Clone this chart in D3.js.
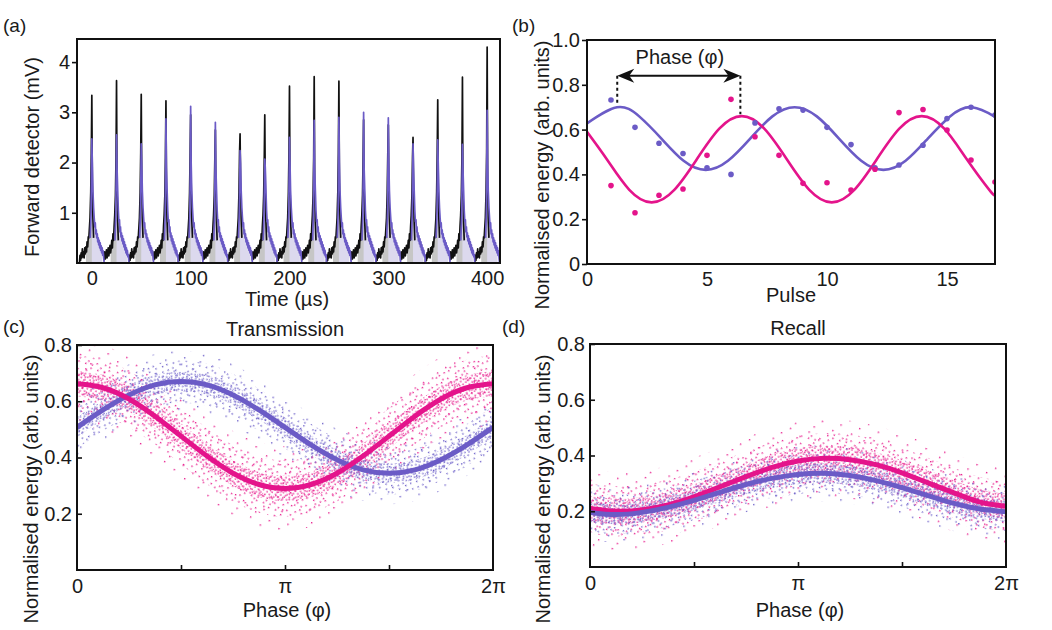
<!DOCTYPE html>
<html>
<head>
<meta charset="utf-8">
<script src="https://cdn.jsdelivr.net/npm/d3@7"></script>
<style>
body { margin: 0; background: #fff; }
text { font-family: "Liberation Sans", Arial, sans-serif; fill: #1a1a1a; }
</style>
</head>
<body>
<svg id="fig" width="1052" height="630"></svg>
<script>
// ---------- data ----------
// (a) forward detector, one pulse every 25 us
var pulseTimes = [0, 25, 50, 75, 100, 125, 150, 175, 200, 225, 250, 275, 300, 325, 350, 375, 400];
var inputPeaks = [3.34, 3.63, 3.36, 3.23, 2.95, 2.65, 2.57, 2.95, 3.52, 3.71, 3.62, 2.85, 2.75, 2.5, 3.25, 3.7, 4.3];
var outputPeaks = [2.47, 2.55, 2.37, 2.87, 3.12, 2.8, 2.24, 2.07, 2.5, 2.84, 2.9, 3.0, 2.89, 2.37, 2.45, 2.36, 3.04];
// pulse shapes: [offset from peak (us), mV], null = the pulse peak
var inputShapeA = [[-12.5, 0.0], [-12, 0.15], [-11.4, 0.05], [-10.8, 0.2], [-10.2, 0.1], [-9.6, 0.28], [-9, 0.12],
  [-8.4, 0.22], [-7.8, 0.1], [-7.2, 0.3], [-6.6, 0.18], [-6, 0.32], [-5.4, 0.22], [-4.8, 0.42], [-4.2, 0.32],
  [-3.6, 0.52], [-3, 0.5], [-2.4, 0.7], [-1.8, 0.9], [-1.1, 1.4], [-0.5, 2.2], [0, null], [0.5, 1.6], [1.1, 0.9], [1.8, 0.5]];
var inputShapeB = [[-12.5, 0.05], [-12, 0.22], [-11.4, 0.08], [-10.8, 0.14], [-10.2, 0.26], [-9.6, 0.1], [-9, 0.2],
  [-8.4, 0.3], [-7.8, 0.14], [-7.2, 0.24], [-6.6, 0.35], [-6, 0.2], [-5.4, 0.3], [-4.8, 0.45], [-4.2, 0.3],
  [-3.6, 0.58], [-3, 0.45], [-2.4, 0.74], [-1.8, 0.95], [-1.1, 1.35], [-0.5, 2.1], [0, null], [0.5, 1.5], [1.1, 0.85], [1.8, 0.45]];
var outputShapeA = [[-1.6, 0.5], [-0.8, 1.0], [0, null], [0.5, 2.0], [1.1, 1.45], [1.8, 1.1], [2.4, 0.9], [3, 0.72],
  [3.5, 0.8], [4, 0.58], [4.5, 0.66], [5, 0.5], [5.5, 0.58], [6, 0.42], [6.5, 0.5], [7, 0.36], [7.5, 0.45], [8, 0.3],
  [8.5, 0.4], [9, 0.25], [9.5, 0.34], [10, 0.2], [10.5, 0.3], [11, 0.15], [11.5, 0.24], [12, 0.1], [12.5, 0.0]];
var outputShapeB = [[-1.6, 0.45], [-0.8, 0.95], [0, null], [0.5, 1.9], [1.1, 1.5], [1.8, 1.05], [2.4, 0.82], [3, 0.86],
  [3.5, 0.62], [4, 0.72], [4.5, 0.52], [5, 0.6], [5.5, 0.44], [6, 0.54], [6.5, 0.38], [7, 0.48], [7.5, 0.32], [8, 0.42],
  [8.5, 0.26], [9, 0.36], [9.5, 0.2], [10, 0.3], [10.5, 0.16], [11, 0.25], [11.5, 0.12], [12, 0.17], [12.5, 0.0]];

// (b) pulse energies and fitted curves
var pulseNumbers = [1, 2, 3, 4, 5, 6, 7, 8, 9, 10, 11, 12, 13, 14, 15, 16, 17];
var purpleEnergy = [0.732, 0.61, 0.539, 0.493, 0.43, 0.40, 0.63, 0.693, 0.687, 0.61, 0.533, 0.43, 0.442, 0.53, 0.649, 0.70, 0.665];
var pinkEnergy = [0.35, 0.229, 0.307, 0.335, 0.485, 0.735, 0.568, 0.485, 0.36, 0.363, 0.33, 0.423, 0.676, 0.69, 0.598, 0.464, 0.366];
var purpleFitX = [0, 1.25, 2.175, 3.1, 4.025, 4.95, 5.875, 6.8, 7.725, 8.65, 9.575, 10.5, 11.425, 12.35, 13.275, 14.2, 15.125, 16.05, 16.975, 17];
var purpleFitY = [0.628, 0.70, 0.659, 0.56, 0.461, 0.42, 0.461, 0.56, 0.659, 0.70, 0.659, 0.56, 0.461, 0.42, 0.461, 0.56, 0.659, 0.70, 0.659, 0.658];
var pinkFitX = [0, 0.825, 1.7625, 2.7, 3.6375, 4.575, 5.5125, 6.45, 7.3875, 8.325, 9.2625, 10.2, 11.1375, 12.075, 13.0125, 13.95, 14.8875, 15.825, 16.7625, 17];
var pinkFitY = [0.59, 0.4675, 0.331, 0.275, 0.331, 0.4675, 0.604, 0.66, 0.604, 0.4675, 0.331, 0.275, 0.331, 0.4675, 0.604, 0.66, 0.604, 0.4675, 0.331, 0.307];
var phaseMark = [1.26, 6.39]; // pulse positions of the two marked peaks
var phaseMarkTop = [0.70, 0.66];

// (c), (d) phase in units of pi
var phases = [0, 0.125, 0.25, 0.375, 0.5, 0.625, 0.75, 0.875, 1, 1.125, 1.25, 1.375, 1.5, 1.625, 1.75, 1.875, 2];
var transPurple = [0.507, 0.569, 0.622, 0.658, 0.670, 0.658, 0.622, 0.569, 0.507, 0.445, 0.392, 0.356, 0.344, 0.356, 0.392, 0.445, 0.507];
var transPink = [0.662, 0.648, 0.608, 0.547, 0.476, 0.405, 0.344, 0.304, 0.290, 0.304, 0.344, 0.405, 0.476, 0.547, 0.608, 0.648, 0.662];
var recallPurple = [0.196, 0.188, 0.196, 0.214, 0.239, 0.268, 0.296, 0.318, 0.332, 0.336, 0.328, 0.310, 0.285, 0.256, 0.228, 0.208, 0.198];
var recallPink = [0.210, 0.200, 0.205, 0.223, 0.252, 0.288, 0.324, 0.357, 0.380, 0.390, 0.385, 0.367, 0.338, 0.302, 0.266, 0.233, 0.218];
// spread of the scattered shots around each fit: [core, body, halo]
var transPurpleSpread = [0.035, 0.075, 0.11];
var transPinkSpread = [0.045, 0.1, 0.15];
var recallPurpleSpread = [0.035, 0.07, 0.1];
var recallPinkSpread = [0.045, 0.09, 0.14];
var phaseTicks = [0, 0.5, 1, 1.5, 2];
var phaseTickLabels = ["0", "", "π", "", "2π"];

// ---------- styles ----------
var PURPLE = "#6b5bc6", PINK = "#e4148b";

var svg = d3.select("#fig");
var defs = svg.append("defs");

function clip(id, l, r, t, b) {
  defs.append("clipPath").attr("id", id)
    .append("rect").attr("x", l).attr("y", t).attr("width", r - l).attr("height", b - t);
}

function frame(l, r, t, b) {
  svg.append("rect").attr("x", l).attr("y", t).attr("width", r - l).attr("height", b - t)
    .attr("fill", "none").attr("stroke", "#111").attr("stroke-width", 2);
}

function label(txt, x, y, opts) {
  opts = opts || {};
  var t = svg.append("text").text(txt).attr("font-size", opts.size || 20)
    .attr("text-anchor", opts.anchor || "middle");
  if (opts.rotate) t.attr("transform", "translate(" + x + "," + y + ") rotate(-90)");
  else t.attr("x", x).attr("y", y);
  return t;
}

function styleAxis(g) {
  g.select(".domain").remove();
  g.selectAll(".tick line").attr("stroke", "#111").attr("stroke-width", 1.6);
  g.selectAll(".tick text").attr("font-size", 20).attr("fill", "#1a1a1a")
    .attr("font-family", "Liberation Sans, Arial, sans-serif");
}

// dotted textures for the scatter clouds
var denseDots = [[0.5, 0.5], [4.5, 1.5], [7.5, 3.5], [2.5, 4.5], [5.5, 6.5], [8.2, 7.8], [1.2, 7.6], [6.6, 0.2]];
var bodyDots = [[1, 2], [8, 0.5], [12, 6], [4, 9], [9.5, 11], [0.5, 12.5]];
var haloDots = [[2, 3], [13, 9], [6, 16]];
function makePattern(id, color, tile, dots, angle) {
  var p = defs.append("pattern").attr("id", id).attr("patternUnits", "userSpaceOnUse")
    .attr("width", tile).attr("height", tile).attr("patternTransform", "rotate(" + angle + ")");
  dots.forEach(function (d) {
    p.append("rect").attr("x", d[0]).attr("y", d[1]).attr("width", 1.4).attr("height", 1.4)
      .attr("fill", color);
  });
}
makePattern("pkCore", "#e8208f", 9, denseDots, 17);
makePattern("pkBody", "#e8208f", 14, bodyDots, 31);
makePattern("pkHalo", "#e8208f", 19, haloDots, 11);
makePattern("puCore", "#7063ca", 9, denseDots, -23);
makePattern("puBody", "#7063ca", 14, bodyDots, -41);
makePattern("puHalo", "#7063ca", 19, haloDots, -7);

// ---------- (a) ----------
var xA = d3.scaleLinear().domain([-15, 413]).range([77, 500]);
var yA = d3.scaleLinear().domain([0, 4.46]).range([263, 39]);
clip("clipA", 77, 500, 39, 263);
var gA = svg.append("g").attr("clip-path", "url(#clipA)");

function pulseTrace(shape, peak, t0) {
  return shape.map(function (p) { return [t0 + p[0], p[1] === null ? peak : p[1]]; });
}
var lineA = d3.line().x(function (d) { return xA(d[0]); }).y(function (d) { return yA(d[1]); });
var areaA = d3.area().x(function (d) { return xA(d[0]); }).y0(yA(0)).y1(function (d) { return yA(d[1]); });

var inputTraces = pulseTimes.map(function (t, i) { return pulseTrace(i % 2 ? inputShapeB : inputShapeA, inputPeaks[i], t); });
var outputTraces = pulseTimes.map(function (t, i) { return pulseTrace(i % 2 ? outputShapeB : outputShapeA, outputPeaks[i], t); });

inputTraces.forEach(function (tr, i) {
  var t0 = pulseTimes[i];
  gA.append("path").datum(tr.filter(function (d) { return d[0] >= t0 - 6 && d[0] <= t0 + 1.8; }))
    .attr("d", areaA).attr("fill", "#c6c6c6");
});
outputTraces.forEach(function (tr, i) {
  var t0 = pulseTimes[i];
  gA.append("path").datum(tr.filter(function (d) { return d[0] >= t0 && d[0] <= t0 + 10.5; }))
    .attr("d", areaA).attr("fill", "#dcd9ee");
});
inputTraces.forEach(function (tr) {
  gA.append("path").datum(tr).attr("d", lineA).attr("fill", "none")
    .attr("stroke", "#111").attr("stroke-width", 1.7).attr("stroke-linejoin", "round");
});
outputTraces.forEach(function (tr) {
  gA.append("path").datum(tr).attr("d", lineA).attr("fill", "none")
    .attr("stroke", PURPLE).attr("stroke-width", 1.7).attr("stroke-linejoin", "round");
});

svg.append("g").attr("transform", "translate(77,0)")
  .call(d3.axisLeft(yA).tickValues([1, 2, 3, 4]).tickFormat(d3.format("d")).tickSize(5).tickPadding(2))
  .call(styleAxis);
svg.append("g").attr("transform", "translate(0,263)")
  .call(d3.axisBottom(xA).tickValues([0, 100, 200, 300, 400]).tickSize(0).tickPadding(8)).call(styleAxis);
frame(77, 500, 39, 263);
label("Time (µs)", 287, 306);
label("Forward detector (mV)", 39, 157, { rotate: true });
label("(a)", 3, 32, { anchor: "start", size: 19 });

// ---------- (b) ----------
var xB = d3.scaleLinear().domain([0, 17]).range([587, 995]);
var yB = d3.scaleLinear().domain([0, 1]).range([264, 40]);
clip("clipB", 587, 995, 40, 264);
var gB = svg.append("g").attr("clip-path", "url(#clipB)");
var fitLineB = d3.line().curve(d3.curveNatural).x(function (d) { return xB(d[0]); }).y(function (d) { return yB(d[1]); });

gB.append("path").datum(d3.zip(purpleFitX, purpleFitY)).attr("d", fitLineB)
  .attr("fill", "none").attr("stroke", PURPLE).attr("stroke-width", 2.6);
gB.append("path").datum(d3.zip(pinkFitX, pinkFitY)).attr("d", fitLineB)
  .attr("fill", "none").attr("stroke", PINK).attr("stroke-width", 2.6);
gB.selectAll("circle.pu").data(d3.zip(pulseNumbers, purpleEnergy)).enter().append("circle")
  .attr("cx", function (d) { return xB(d[0]); }).attr("cy", function (d) { return yB(d[1]); })
  .attr("r", 2.8).attr("fill", PURPLE);
gB.selectAll("circle.pk").data(d3.zip(pulseNumbers, pinkEnergy)).enter().append("circle")
  .attr("cx", function (d) { return xB(d[0]); }).attr("cy", function (d) { return yB(d[1]); })
  .attr("r", 2.8).attr("fill", PINK);

// phase annotation
var arrowY = yB(0.84);
phaseMark.forEach(function (p, i) {
  svg.append("line").attr("x1", xB(p)).attr("x2", xB(p)).attr("y1", arrowY).attr("y2", yB(phaseMarkTop[i]) - 2)
    .attr("stroke", "#111").attr("stroke-width", 2).attr("stroke-dasharray", "3,3");
});
svg.append("line").attr("x1", xB(phaseMark[0]) + 8).attr("x2", xB(phaseMark[1]) - 8)
  .attr("y1", arrowY).attr("y2", arrowY).attr("stroke", "#111").attr("stroke-width", 2);
svg.append("path").attr("d", "M0,0 L-17,-7 L-12,0 L-17,7 Z").attr("fill", "#111")
  .attr("transform", "translate(" + xB(phaseMark[1]) + "," + arrowY + ")");
svg.append("path").attr("d", "M0,0 L-17,-7 L-12,0 L-17,7 Z").attr("fill", "#111")
  .attr("transform", "translate(" + xB(phaseMark[0]) + "," + arrowY + ") rotate(180)");
label("Phase (φ)", xB(3.87), 64);

svg.append("g").attr("transform", "translate(587,0)")
  .call(d3.axisLeft(yB).tickValues([0, 0.2, 0.4, 0.6, 0.8, 1.0])
    .tickFormat(function (d) { return d === 0 ? "0" : d3.format(".1f")(d); }).tickSize(5).tickPadding(2))
  .call(styleAxis);
svg.append("g").attr("transform", "translate(0,264)")
  .call(d3.axisBottom(xB).tickValues([0, 5, 10, 15]).tickSize(0).tickPadding(8)).call(styleAxis);
frame(587, 995, 40, 264);
label("Pulse", 791, 302);
label("Normalised energy (arb. units)", 549, 175, { rotate: true });
label("(b)", 512, 32, { anchor: "start", size: 19 });

// ---------- (c), (d) ----------
function cloudPanel(opt) {
  var x = d3.scaleLinear().domain([0, 2]).range([opt.l, opt.r]);
  var y = d3.scaleLinear().domain([0, 0.8]).range([opt.b, opt.t]);
  clip(opt.id, opt.l, opt.r, opt.t, opt.b);
  var g = svg.append("g").attr("clip-path", "url(#" + opt.id + ")");

  function band(fit, w) {
    return d3.area().curve(d3.curveNatural)
      .x(function (d, i) { return x(phases[i]); })
      .y0(function (d) { return y(d - w); })
      .y1(function (d) { return y(d + w); })(fit);
  }
  opt.series.forEach(function (s) {
    g.append("path").attr("d", band(s.fit, s.spread[2])).attr("fill", "url(#" + s.tex + "Halo)");
    g.append("path").attr("d", band(s.fit, s.spread[1])).attr("fill", "url(#" + s.tex + "Body)");
    g.append("path").attr("d", band(s.fit, s.spread[0])).attr("fill", "url(#" + s.tex + "Core)");
  });
  var fitLine = d3.line().curve(d3.curveNatural)
    .x(function (d, i) { return x(phases[i]); }).y(function (d) { return y(d); });
  opt.lineOrder.forEach(function (s) {
    g.append("path").attr("d", fitLine(s.fit)).attr("fill", "none")
      .attr("stroke", s.color).attr("stroke-width", 5);
  });

  svg.append("g").attr("transform", "translate(" + opt.l + ",0)")
    .call(d3.axisLeft(y).tickValues([0.2, 0.4, 0.6, 0.8]).tickFormat(d3.format(".1f"))
      .tickSizeInner(-5).tickSizeOuter(0).tickPadding(5))
    .call(styleAxis);
  svg.append("g").attr("transform", "translate(0," + opt.b + ")")
    .call(d3.axisBottom(x).tickValues(phaseTicks).tickFormat(function (d, i) { return phaseTickLabels[i]; })
      .tickSizeInner(-5).tickSizeOuter(0).tickPadding(9))
    .call(styleAxis)
    .call(function (g) { g.selectAll(".tick").filter(function (d) { return d === 0 || d === 2; }).select("line").remove(); });
  frame(opt.l, opt.r, opt.t, opt.b);
  label(opt.title, (opt.l + opt.r) / 2, opt.t - 9);
  label("Phase (φ)", (opt.l + opt.r) / 2 + 2, 617);
  label("Normalised energy (arb. units)", opt.yLabelX, 489, { rotate: true });
  label(opt.tag, opt.tagX, 333, { anchor: "start", size: 19 });
}

var transPu = { fit: transPurple, spread: transPurpleSpread, tex: "pu", color: PURPLE };
var transPk = { fit: transPink, spread: transPinkSpread, tex: "pk", color: PINK };
cloudPanel({
  id: "clipC", l: 77, r: 493, t: 345, b: 570, title: "Transmission", tag: "(c)", tagX: 3, yLabelX: 38,
  series: [transPk, transPu], lineOrder: [transPu, transPk]
});
var recPu = { fit: recallPurple, spread: recallPurpleSpread, tex: "pu", color: PURPLE };
var recPk = { fit: recallPink, spread: recallPinkSpread, tex: "pk", color: PINK };
cloudPanel({
  id: "clipD", l: 590, r: 1006, t: 344, b: 567, title: "Recall", tag: "(d)", tagX: 502, yLabelX: 550,
  series: [recPk, recPu], lineOrder: [recPk, recPu]
});
</script>
</body>
</html>
